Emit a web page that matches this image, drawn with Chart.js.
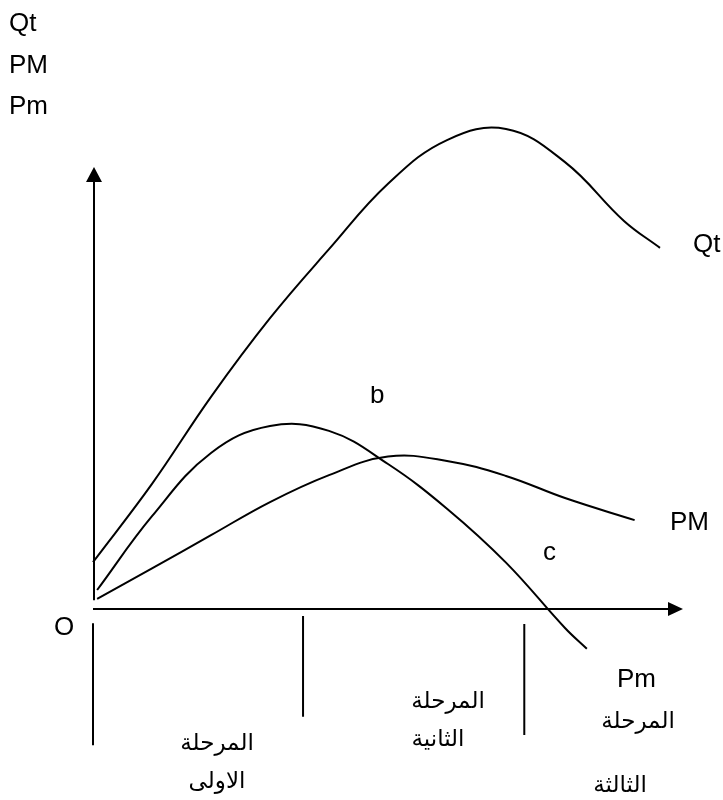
<!DOCTYPE html>
<html lang="ar">
<head>
<meta charset="utf-8">
<title>Qt PM Pm</title>
<script src="https://cdn.jsdelivr.net/npm/chart.js@4.4.1/dist/chart.umd.min.js"></script>
<style>
  html, body { margin: 0; padding: 0; background: #ffffff; }
  #wrap { width: 723px; height: 800px; }
</style>
</head>
<body>
<div id="wrap"><canvas id="prodChart" width="723" height="800"></canvas></div>
<script>
// الكمية الكلية Qt
const totalX = [0, 1, 2, 3, 4, 5, 6, 7, 8, 9, 9.61];
const totalY = [1.06, 2.83, 4.8, 6.58, 8.14, 9.62, 10.61, 10.86, 10.11, 8.78, 8.17];

// الناتج المتوسط PM
const avgX = [0.07, 1, 2, 3, 4, 5, 6, 7, 8, 9.18];
const avgY = [0.23, 0.92, 1.67, 2.42, 3.03, 3.45, 3.35, 3.01, 2.51, 2.01];

// الناتج الحدي Pm
const margX = [0.07, 1, 2, 3, 4, 5, 6, 7, 8, 8.37];
const margY = [0.43, 2.1, 3.53, 4.14, 4.03, 3.28, 2.27, 1.05, -0.43, -0.9];

// حدود المراحل الثلاث
const stageX = [0, 3.56, 7.31];
const stageTop = [-0.32, -0.16, -0.34];
const stageBottom = [-3.08, -2.44, -2.85];

const toPoints = (xs, ys) => xs.map((x, i) => ({ x: x, y: ys[i] }));

const LATIN = "26px 'Liberation Sans', Arial, sans-serif";
const ARABIC = "23px 'DejaVu Sans', 'Liberation Sans', sans-serif";

// محاور بأسهم
const axesPlugin = {
  id: "axes",
  beforeDatasetsDraw: (chart) => {
    const { ctx, scales: { x, y } } = chart;
    const x0 = x.getPixelForValue(0);
    const y0 = y.getPixelForValue(0);
    const xEnd = x.getPixelForValue(10);
    const yEnd = y.getPixelForValue(10);

    ctx.save();
    ctx.strokeStyle = "#000";
    ctx.fillStyle = "#000";
    ctx.lineWidth = 2;

    ctx.beginPath();
    ctx.moveTo(x0 + 1, y.getPixelForValue(0.2));
    ctx.lineTo(x0 + 1, yEnd + 14);
    ctx.moveTo(x0, y0);
    ctx.lineTo(xEnd - 14, y0);
    ctx.stroke();

    ctx.beginPath();
    ctx.moveTo(x0 + 1, yEnd);
    ctx.lineTo(x0 - 7, yEnd + 15);
    ctx.lineTo(x0 + 9, yEnd + 15);
    ctx.closePath();
    ctx.fill();

    ctx.beginPath();
    ctx.moveTo(xEnd, y0);
    ctx.lineTo(xEnd - 15, y0 - 7);
    ctx.lineTo(xEnd - 15, y0 + 7);
    ctx.closePath();
    ctx.fill();
    ctx.restore();
  },
};

// النصوص
const labelsPlugin = {
  id: "labels",
  afterDraw: (chart) => {
    const { ctx } = chart;
    ctx.save();
    ctx.fillStyle = "#000";
    ctx.textBaseline = "alphabetic";
    ctx.textAlign = "left";
    ctx.font = LATIN;
    ctx.fillText("Qt", 9, 31);
    ctx.fillText("PM", 9, 73);
    ctx.fillText("Pm", 9, 114);
    ctx.fillText("Qt", 693, 252);
    ctx.fillText("PM", 670, 530);
    ctx.fillText("Pm", 617, 687);
    ctx.fillText("O", 54, 635);
    ctx.fillText("c", 543, 560);

    // حرف b مقصوص من الأعلى
    ctx.save();
    ctx.beginPath();
    ctx.rect(360, 386, 40, 30);
    ctx.clip();
    ctx.fillText("b", 370, 403);
    ctx.restore();

    ctx.font = ARABIC;
    ctx.textAlign = "center";
    ctx.textBaseline = "middle";
    ctx.fillText("المرحلة", 217, 744);
    ctx.fillText("الاولى", 217, 782);
    ctx.fillText("المرحلة", 448, 702);
    ctx.fillText("الثانية", 438, 740);
    ctx.fillText("المرحلة", 638, 722);
    ctx.fillText("الثالثة", 620, 786);
    ctx.restore();
  },
};

const curve = (label, pts) => ({
  label: label,
  data: pts,
  borderColor: "#000",
  borderWidth: 2,
  pointRadius: 0,
  tension: 0.4,
  capBezierPoints: false,
  fill: false,
  clip: false,
});

const stageSets = stageX.map((sx, i) => ({
  label: "stage" + (i + 1),
  data: [{ x: sx, y: stageTop[i] }, { x: sx, y: stageBottom[i] }],
  borderColor: "#000",
  borderWidth: 2,
  pointRadius: 0,
  tension: 0,
  clip: false,
}));

new Chart(document.getElementById("prodChart"), {
  type: "line",
  data: {
    datasets: [
      curve("Qt", toPoints(totalX, totalY)),
      curve("PM", toPoints(avgX, avgY)),
      curve("Pm", toPoints(margX, margY)),
      ...stageSets,
    ],
  },
  plugins: [axesPlugin, labelsPlugin],
  options: {
    responsive: false,
    animation: false,
    events: [],
    layout: { padding: { left: 93, right: 40, top: 167, bottom: 191 } },
    plugins: { legend: { display: false }, tooltip: { enabled: false } },
    scales: {
      x: { type: "linear", min: 0, max: 10, display: false },
      y: { type: "linear", min: 0, max: 10, display: false },
    },
  },
});
</script>
</body>
</html>
